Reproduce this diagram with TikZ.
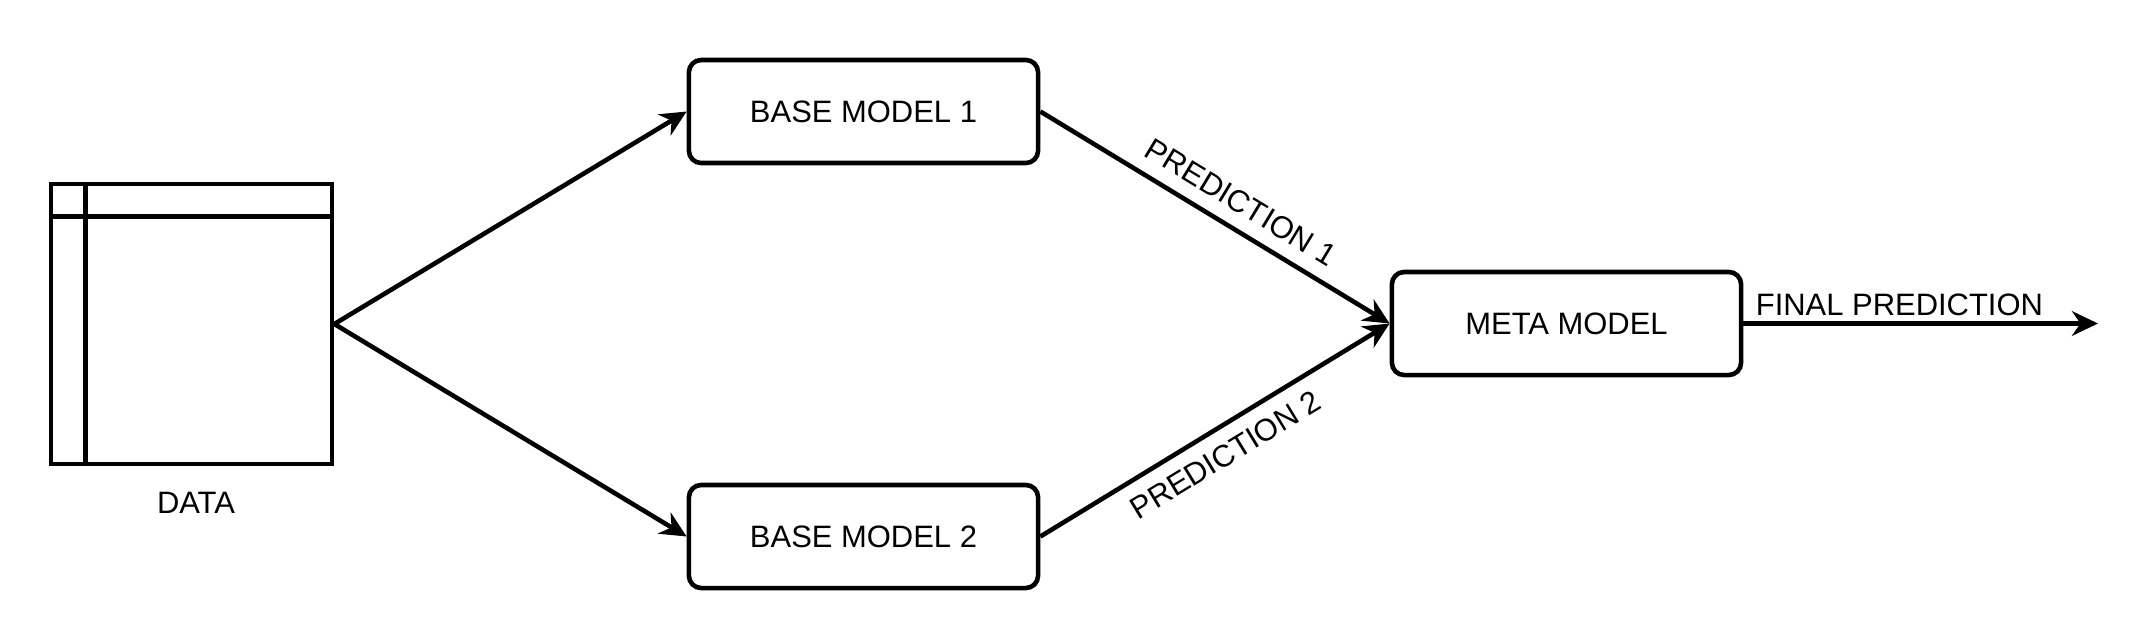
\documentclass[tikz,border=0pt]{standalone}
\usepackage{fontspec}
\setmainfont{Liberation Sans}
\usetikzlibrary{arrows.meta,positioning}

\begin{document}
\begin{tikzpicture}[
    x=0.01cm, y=-0.01cm,
    font=\fontsize{8.8}{10}\selectfont,
    model/.style={rectangle, rounded corners=3.5pt, draw=black, line width=1.3pt, minimum width=3.49cm, minimum height=1.03cm, align=center},
    datatable/.style={rectangle, draw=black, line width=1.3pt, minimum width=2.81cm, minimum height=2.80cm},
    arrow/.style={-{Stealth[length=7.4pt, width=7pt, inset=2.4pt]}, line width=1.3pt, black},
    predlabel/.style={inner sep=3.8pt}
]
\useasboundingbox (0,0) rectangle (2136,636);

% Data table
\node[datatable] (data) at (191.5,324) {};
\draw[line width=1.3pt] ([yshift=-0.35cm]data.north west) -- ([yshift=-0.35cm]data.north east);
\draw[line width=1.3pt] ([xshift=0.37cm]data.north west) -- ([xshift=0.37cm]data.south west);
\node (datalabel) at (196,503) {DATA};

% Models
\node[model] (base1) at (863.5,111.5) {BASE MODEL 1};
\node[model] (base2) at (863.5,536.5) {BASE MODEL 2};
\node[model] (meta) at (1566.5,323.5) {META MODEL};
\coordinate (out) at (2098,323.5);

% Arrows
\draw[arrow] (data.east) -- (base1.west);
\draw[arrow] (data.east) -- (base2.west);
\draw[arrow] (base1.east) -- (meta.west) node[pos=0.535, sloped, above, predlabel] {PREDICTION 1};
\draw[arrow] (base2.east) -- (meta.west) node[pos=0.49, sloped, below, predlabel] {PREDICTION 2};
\draw[arrow] (meta.east) -- (out) node[pos=0.44, above, inner sep=1.5pt] {FINAL PREDICTION};

\end{tikzpicture}
\end{document}
